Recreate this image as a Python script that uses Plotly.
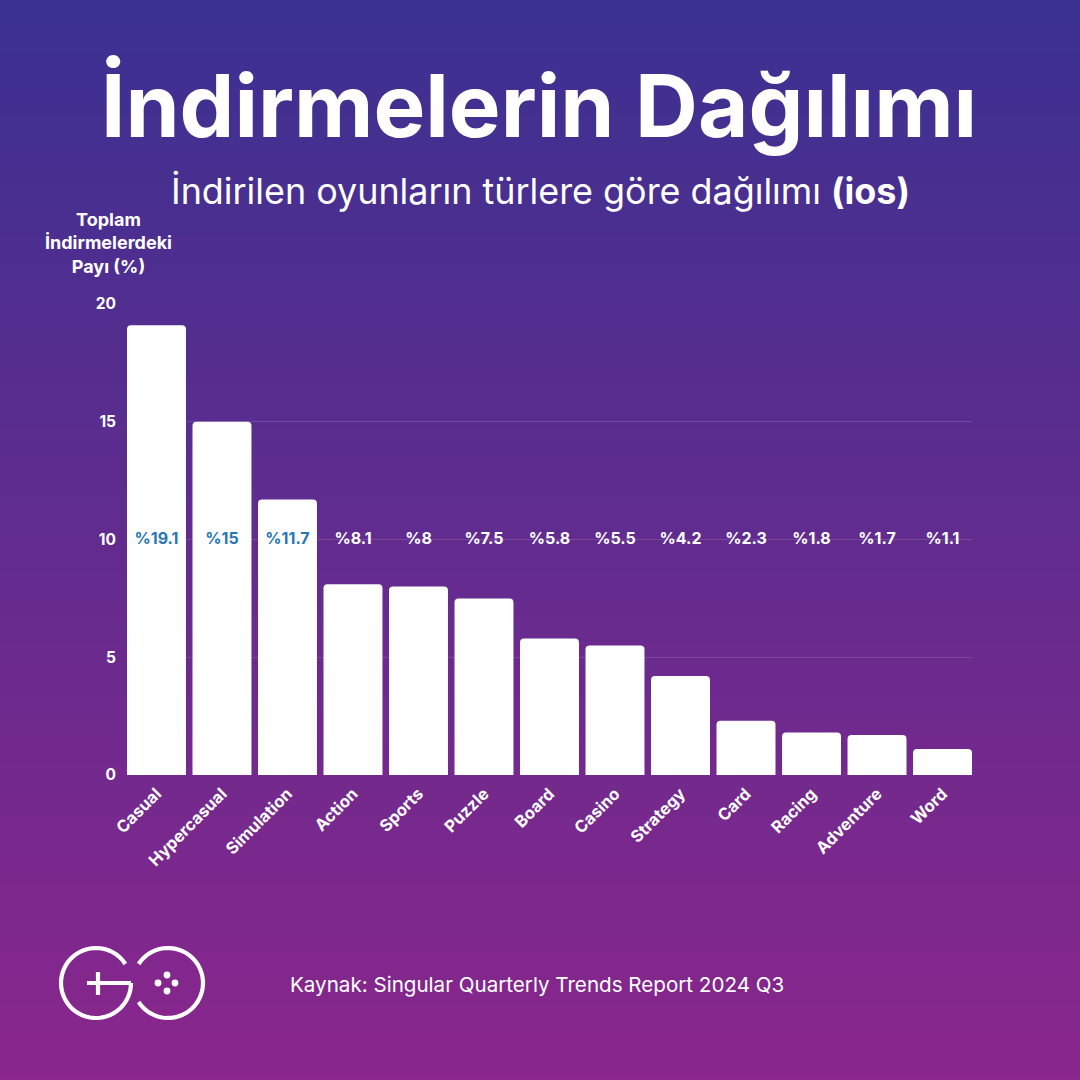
import numpy as np
import plotly.graph_objects as go

categories = ['Casual', 'Hypercasual', 'Simulation', 'Action', 'Sports', 'Puzzle', 'Board',
              'Casino', 'Strategy', 'Card', 'Racing', 'Adventure', 'Word']
shares = [19.1, 15, 11.7, 8.1, 8, 7.5, 5.8, 5.5, 4.2, 2.3, 1.8, 1.7, 1.1]
label_y = [10] * len(categories)
y_ticks = [0, 5, 10, 15, 20]

title_text = 'İndirmelerin Dağılımı'
subtitle_text = 'İndirilen oyunların türlere göre dağılımı <b>(ios)</b>'
y_title_text = 'Toplam<br>İndirmelerdeki<br>Payı (%)'
source_text = 'Kaynak: Singular Quarterly Trends Report 2024 Q3'

FONT = 'Inter'
WHITE = '#ffffff'
BLUE = '#2878b5'
W = 1080
LOGO_W = 4.2


def arc_path(cx, cy, r, start, end, steps=60):
    # angles in degrees, y axis of the background points down
    a = np.radians(np.linspace(start, end, steps))
    pts = [f'{cx + r * np.cos(t):.2f},{cy + r * np.sin(t):.2f}' for t in a]
    return 'M' + ' L'.join(pts)


fig = go.Figure()

# background gradient, full page on its own axes
fig.add_trace(go.Heatmap(
    x=[0, W], y=[0, W], z=[[0, 0], [1, 1]],
    colorscale=[[0, '#3a3191'], [1, '#8a268c']],
    showscale=False, zsmooth='best', hoverinfo='skip',
    xaxis='x', yaxis='y',
))

fig.add_trace(go.Bar(
    x=categories, y=shares,
    marker=dict(color=WHITE, cornerradius=4, line=dict(width=0)),
    xaxis='x2', yaxis='y2',
))

fig.add_trace(go.Scatter(
    x=categories, y=label_y, mode='text',
    text=[f'%{v:g}' for v in shares],
    textfont=dict(family=FONT, size=16, weight=700,
                  color=[BLUE if v > label_y[i] else WHITE for i, v in enumerate(shares)]),
    xaxis='x2', yaxis='y2',
))

# logo
logo = [
    arc_path(96, 983, 35, -33, -360),
    'M131,983 L87,983',
    'M98,972 L98,995',
    arc_path(168, 983, 35, -147, 147),
]
shapes = [dict(type='path', path=p, xref='x', yref='y', layer='above',
               line=dict(color=WHITE, width=LOGO_W)) for p in logo]
for cx, cy in [(167, 975), (158, 983), (175, 983), (167, 991)]:
    shapes.append(dict(type='circle', xref='x', yref='y', x0=cx - 3.4, x1=cx + 3.4, y0=cy - 3.4, y1=cy + 3.4,
                       fillcolor=WHITE, line=dict(width=0), layer='above'))

annotations = [
    dict(text=title_text, x=539, y=105, font=dict(family=FONT, size=87, weight=700, color=WHITE)),
    dict(text=subtitle_text, x=540, y=191, font=dict(family=FONT, size=35.9, color=WHITE)),
    dict(text=y_title_text, x=108, y=243, font=dict(family=FONT, size=18, weight=700, color=WHITE)),
    dict(text=source_text, x=537, y=984, font=dict(family=FONT, size=20.6, color=WHITE)),
]
for a in annotations:
    a.update(xref='x', yref='y', showarrow=False, xanchor='center', yanchor='middle')

fig.update_layout(
    width=W, height=W,
    margin=dict(l=0, r=0, t=0, b=0, autoexpand=False),
    paper_bgcolor='#5c2c8f',
    plot_bgcolor='rgba(0,0,0,0)',
    showlegend=False,
    bargap=0.1,
    shapes=shapes,
    annotations=annotations,
    xaxis=dict(domain=[0, 1], range=[0, W], visible=False, fixedrange=True),
    yaxis=dict(domain=[0, 1], range=[W, 0], visible=False, fixedrange=True),
    xaxis2=dict(
        domain=[127 / W, 972 / W], anchor='y2',
        range=[-0.45, len(categories) - 0.55], categoryorder='array', categoryarray=categories,
        tickangle=-45, ticks='', showgrid=False, showline=False, zeroline=False,
        ticklabelstandoff=5,
        tickfont=dict(family=FONT, size=16.5, weight=700, color=WHITE),
    ),
    yaxis2=dict(
        domain=[(W - 775) / W, (W - 304) / W], anchor='x2',
        range=[0, 20], tickvals=y_ticks, ticks='', showline=False, zeroline=False,
        gridcolor='rgba(255,255,255,0.13)', gridwidth=1, ticklabelstandoff=10,
        tickfont=dict(family=FONT, size=15.5, weight=700, color=WHITE),
    ),
)

# the page has a default body margin, drop it so the figure fills the window
fig.write_html('out.html', config={'displayModeBar': False},
               post_script="document.body.style.margin='0';document.body.style.overflow='hidden';")
